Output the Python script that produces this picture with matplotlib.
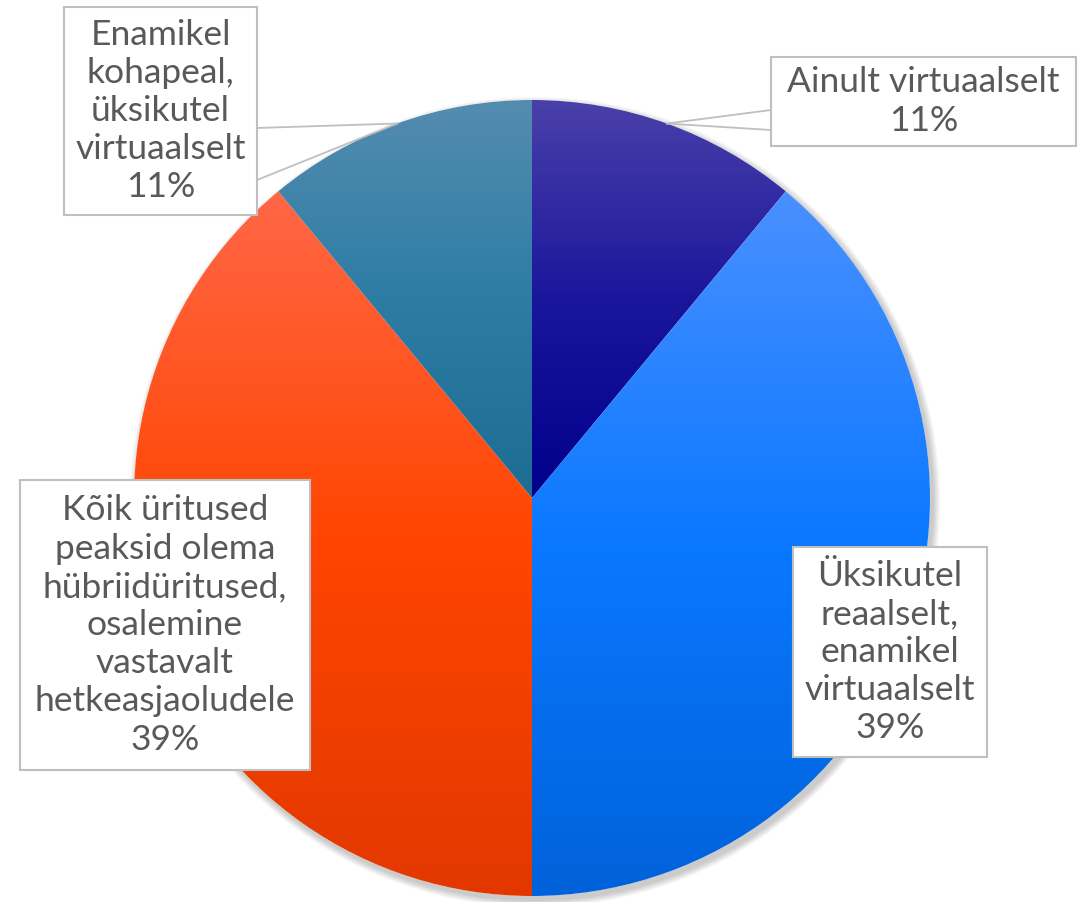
import numpy as np
import matplotlib.pyplot as plt
from matplotlib.colors import LinearSegmentedColormap
from matplotlib.patches import Rectangle, Circle

labels = ['Ainult virtuaalselt',
          'Üksikutel\nreaalselt,\nenamikel\nvirtuaalselt',
          'Kõik üritused\npeaksid olema\nhübriidüritused,\nosalemine\nvastavalt\nhetkeasjaoludele',
          'Enamikel\nkohapeal,\nüksikutel\nvirtuaalselt']
shares = [11, 39, 39, 11]
# gradient colours per slice (top, middle, bottom)
grads = [['#4A40A9', '#1A169C', '#00008C'],
         ['#4A90FF', '#0A78FF', '#0062DA'],
         ['#FF6747', '#FF4500', '#E23800'],
         ['#548CAF', '#2D7CA4', '#1C6C94']]

W, H = 1081, 902
fig = plt.figure(figsize=(W/100, H/100), dpi=100)
ax = fig.add_axes([0, 0, 1, 1])

def py(y):
    # pixel row -> data y
    return H - y

cx, cy, R = 532, py(498), 398

# soft shadow
for k in range(6):
    ax.add_patch(Circle((cx+3, cy-4), R+1+k*1.2, color='k', alpha=0.035, lw=0, zorder=0))
ax.add_patch(Circle((cx, cy), R, color='white', lw=0, zorder=0.5))

wedges, _ = ax.pie(shares, startangle=90, counterclock=False, center=(cx, cy),
                   radius=R, frame=True, wedgeprops=dict(lw=0))

for w, g in zip(wedges, grads):
    t1, t2 = np.deg2rad(w.theta1), np.deg2rad(w.theta2)
    t = np.linspace(t1, t2, 200)
    xs = np.r_[cx, cx + R*np.cos(t)]
    ys = np.r_[cy, cy + R*np.sin(t)]
    cmap = LinearSegmentedColormap.from_list('g', g[::-1])
    img = np.linspace(0, 1, 256).reshape(-1, 1)
    im = ax.imshow(img, extent=[xs.min(), xs.max(), ys.min(), ys.max()], origin='lower',
                   cmap=cmap, aspect='auto', zorder=1)
    im.set_clip_path(w)
    w.set_facecolor('none')

# label boxes (pixel extents: x0, x1, ytop, ybottom)
boxes = [(771, 1076, 57, 146),
         (793, 987, 547, 757),
         (20, 310, 480, 770),
         (64, 257, 7, 215)]
for (x0, x1, yt, yb), lab, s in zip(boxes, labels, shares):
    ax.add_patch(Rectangle((x0, py(yb)), x1-x0, yb-yt, facecolor='white',
                           edgecolor='#BFBFBF', lw=1.5, zorder=3))
    ax.text((x0+x1)/2, py((yt+yb)/2), f'{lab}\n{s}%', ha='center', va='center',
            fontsize=25.5, color='#595959', family='Lato', linespacing=1.24, zorder=4)

# callout leaders for the two small slices
def edge_point(w):
    a = np.deg2rad((w.theta1 + w.theta2)/2)
    return cx + R*np.cos(a), cy + R*np.sin(a)

ax0, ay0 = edge_point(wedges[0])
for yy in (110, 130):
    ax.plot([ax0, 771], [ay0, py(yy)], color='#BFBFBF', lw=1.3, zorder=2.5)
ax3, ay3 = edge_point(wedges[3])
for yy in (128, 180):
    ax.plot([ax3, 257], [ay3, py(yy)], color='#BFBFBF', lw=1.3, zorder=2.5)

ax.set_xlim(0, W)
ax.set_ylim(0, H)
ax.set_aspect('equal')
ax.axis('off')

fig.savefig('out.png', dpi=100)
